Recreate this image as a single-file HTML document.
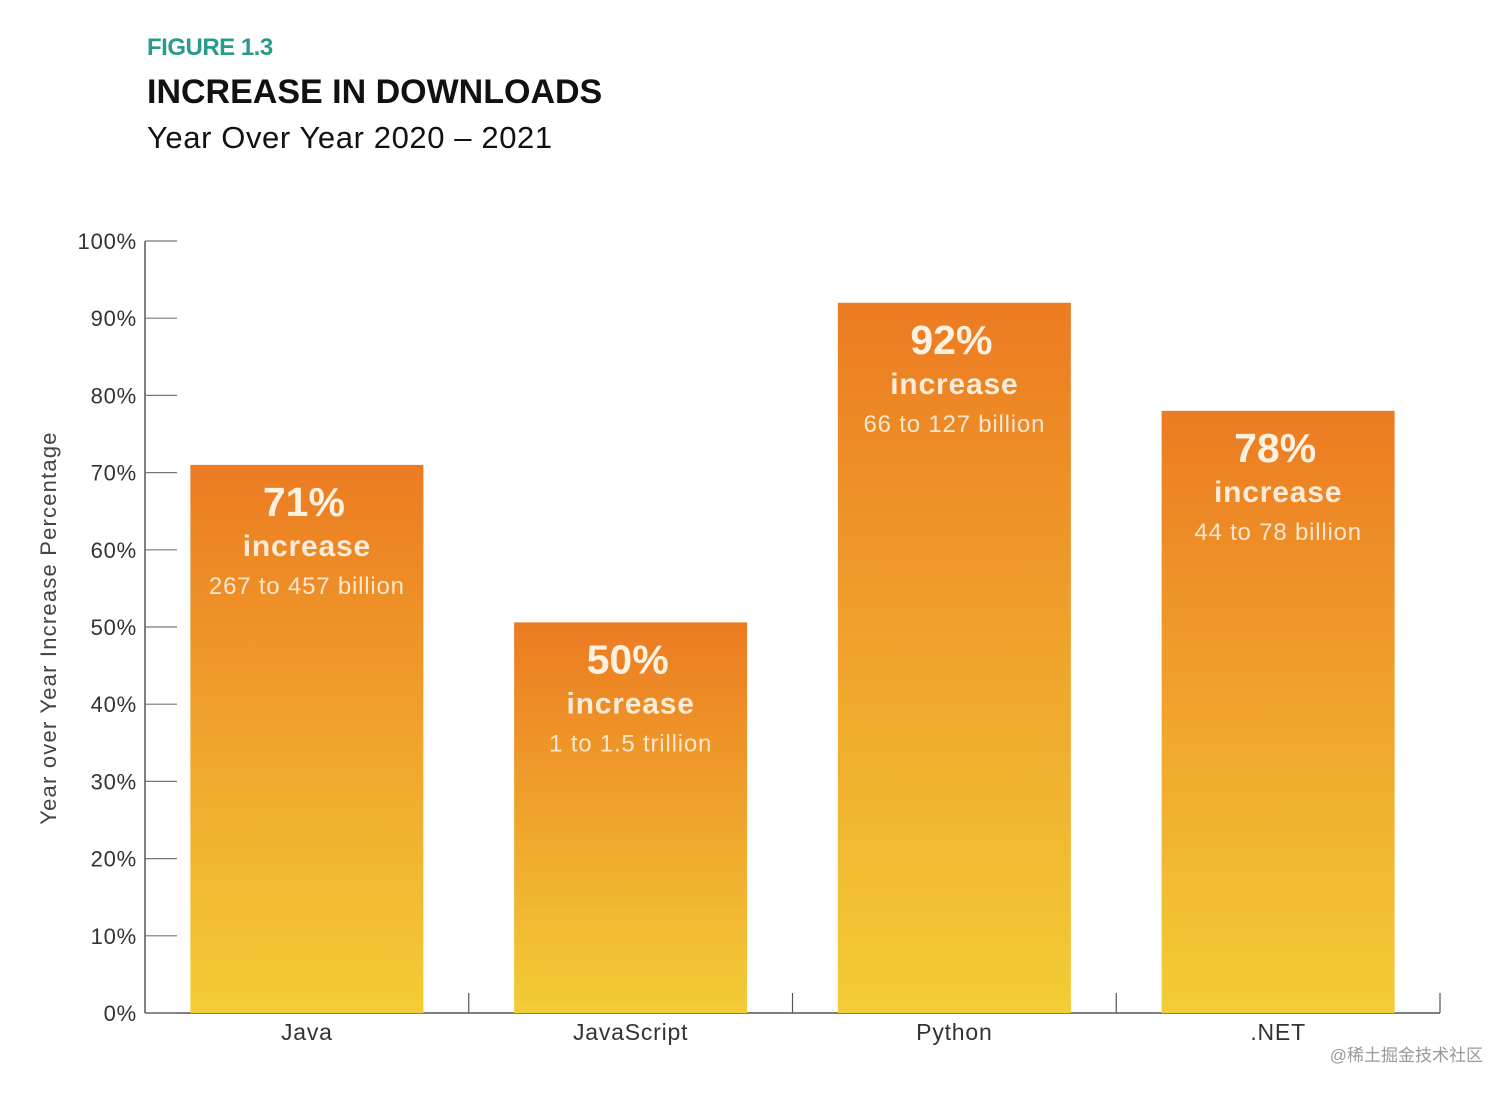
<!DOCTYPE html>
<html><head><meta charset="utf-8"><style>
html,body{margin:0;padding:0;background:#fff;}
svg{display:block;font-family:"Liberation Sans",sans-serif;}
</style></head><body>
<svg id="chart" width="1512" height="1093" viewBox="0 0 1512 1093">
<defs><linearGradient id="bg" x1="0" y1="0" x2="0" y2="1"><stop offset="0" stop-color="#ec7b22"/><stop offset="1" stop-color="#f3cd36"/></linearGradient></defs>
<text x="147" y="55" font-size="24" font-weight="bold" fill="#2a9a8c" letter-spacing="-0.5">FIGURE 1.3</text>
<text x="147" y="103" font-size="34" font-weight="bold" fill="#111" letter-spacing="0">INCREASE IN DOWNLOADS</text>
<text x="147" y="148" font-size="31" fill="#111" letter-spacing="0.6">Year Over Year 2020 – 2021</text>
<text transform="translate(56,628) rotate(-90)" text-anchor="middle" font-size="22" fill="#444" letter-spacing="1.2">Year over Year Increase Percentage</text>
<g id="ax"></g><g id="bars"></g>
<text x="1483" y="1061" text-anchor="end" font-size="17" fill="#999" font-family="'Liberation Sans','Noto Sans CJK SC',sans-serif">@稀土掘金技术社区</text>
</svg>
<script>
const categories=["Java","JavaScript","Python",".NET"];
const values=[71,50.6,92,78];
const pctLabels=["71%","50%","92%","78%"];
const detailLabels=["267 to 457 billion","1 to 1.5 trillion","66 to 127 billion","44 to 78 billion"];
const yTicks=[0,10,20,30,40,50,60,70,80,90,100];

const NS="http://www.w3.org/2000/svg";
const x0=145,x1=1440,yBase=1013,yTop=241;
const y=v=>yBase-(yBase-yTop)*v/100;
const band=(x1-x0)/categories.length;
const bx=i=>x0+band*i;
function mk(tag,attrs,parent,txt){const e=document.createElementNS(NS,tag);for(const k in attrs)e.setAttribute(k,attrs[k]);if(txt!==undefined)e.textContent=txt;parent.appendChild(e);return e;}
const ax=document.getElementById('ax'),bars=document.getElementById('bars');
let l=mk('line',{x1:x0,y1:y(100),x2:x0,y2:yBase,stroke:'#555','stroke-width':1.5},ax);


l=mk('line',{x1:x0,y1:yBase,x2:x1,y2:yBase,stroke:'#555','stroke-width':1.5},ax);


yTicks.forEach(t=>{
 const tl=mk('line',{x1:x0,y1:y(t),x2:x0+32,y2:y(t),stroke:'#777','stroke-width':1.2},ax);
 
 
 const tx=mk('text',{x:137,y:y(t)+8,'text-anchor':'end','font-size':22,'letter-spacing':0.8,fill:'#333'},ax,t+'%');
 
 
});
for(let i=1;i<=categories.length;i++){
 const tl=mk('line',{x1:bx(i),y1:yBase-20,x2:bx(i),y2:yBase,stroke:'#555','stroke-width':1.2},ax);
 
 
}
categories.forEach((c,i)=>{
 const cx=bx(i)+band/2;
 const r=mk('rect',{x:cx-116.5,y:y(values[i]),width:233,height:yBase-y(values[i]),fill:'url(#bg)'},bars);
 
 
 const top=y(values[i]);
 const a=mk('text',{x:cx-3,y:top+51,'text-anchor':'middle','font-size':41,'font-weight':'bold',fill:'#fdf1e2'},bars,pctLabels[i]);
 
 
 const b=mk('text',{x:cx,y:top+91,'text-anchor':'middle','font-size':30,'font-weight':'bold','letter-spacing':0.8,fill:'#fcecd9'},bars,'increase');
 
 
 const d=mk('text',{x:cx,y:top+129,'text-anchor':'middle','font-size':24,'letter-spacing':0.8,fill:'#fbe7cf'},bars,detailLabels[i]);
 
 
 const cl=mk('text',{x:cx,y:1040,'text-anchor':'middle','font-size':23,'letter-spacing':0.8,fill:'#333'},bars,c);
 
 
});
</script>
</body></html>
